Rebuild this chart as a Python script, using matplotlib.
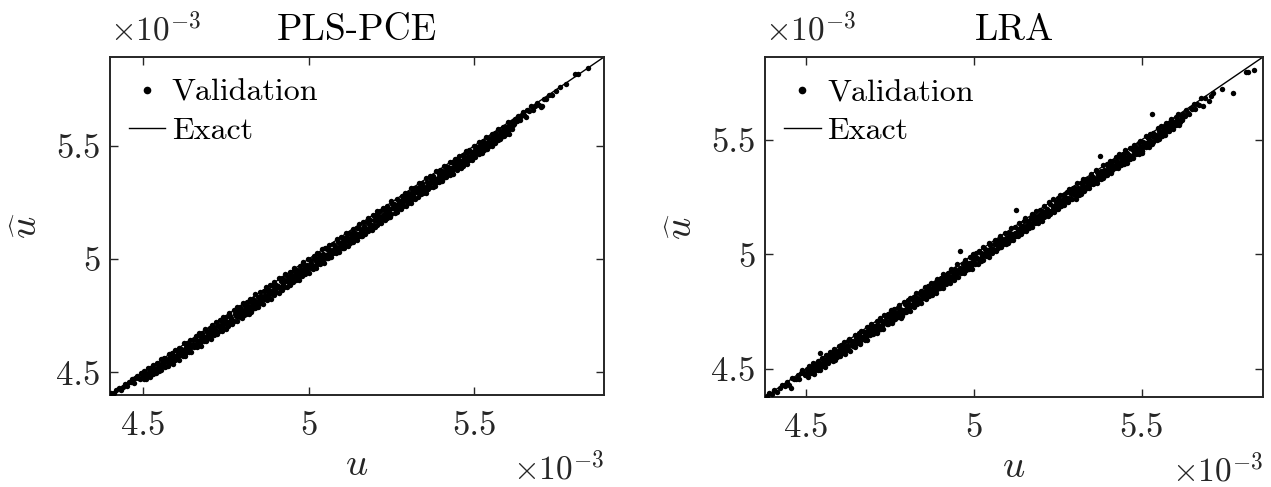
import numpy as np
import matplotlib
matplotlib.use("Agg")
import matplotlib.pyplot as plt
from matplotlib.ticker import FuncFormatter, FixedLocator
from matplotlib.lines import Line2D

plt.rcParams['font.family'] = 'cmr10'
plt.rcParams['mathtext.fontset'] = 'cm'
plt.rcParams['axes.formatter.use_mathtext'] = True

# ---------------------------------------------------------------------------
# Validation samples: exact response u and surrogate error (u_hat - u),
# both stored in units of 1e-6.
# ---------------------------------------------------------------------------
titles = ["PLS-PCE", "LRA"]
tick_values = [4.5e-3, 5.0e-3, 5.5e-3]
pls_lims = [4.400e-3, 5.893e-3]
lra_lims = [4.377e-3, 5.862e-3]

pls_u = [
    4404, 4411, 4419, 4426, 4433, 4439, 4446, 4452, 4457, 4463,
    4468, 4472, 4477, 4481, 4486, 4490, 4494, 4497,
    4503, 4507, 4510, 4515, 4518, 4522, 4524, 4528, 4531, 4535,
    4537, 4541, 4546, 4549, 4554, 4556, 4560, 4564, 4567, 4570,
    4574, 4577, 4581, 4583, 4587, 4592, 4596, 4598, 4603, 4605,
    4608, 4612, 4615, 4620, 4623, 4627, 4629, 4633, 4636, 4640,
    4642, 4646, 4651, 4654, 4659, 4661, 4665, 4669, 4672, 4675,
    4679, 4682, 4686, 4688, 4692, 4697, 4701, 4703, 4708, 4710,
    4713, 4717, 4720, 4725, 4728, 4732, 4734, 4738, 4741, 4745,
    4747, 4751, 4756, 4759, 4764, 4766, 4770, 4774, 4777, 4780,
    4784, 4787, 4791, 4793, 4797, 4802, 4806, 4808, 4813, 4815,
    4818, 4822, 4825, 4830, 4833, 4837, 4839, 4843, 4846, 4850,
    4852, 4856, 4861, 4864, 4869, 4871, 4875, 4879, 4882, 4885,
    4889, 4892, 4896, 4898, 4902, 4907, 4911, 4913, 4918, 4920,
    4923, 4927, 4930, 4935, 4938, 4942, 4944, 4948, 4951, 4955,
    4957, 4961, 4966, 4969, 4974, 4976, 4980, 4984, 4987, 4990,
    4994, 4997, 5001, 5003, 5007, 5012, 5016, 5018, 5023, 5025,
    5028, 5032, 5035, 5040, 5043, 5047, 5049, 5053, 5056, 5060,
    5062, 5066, 5071, 5074, 5079, 5081, 5085, 5089, 5092, 5095,
    5099, 5102, 5106, 5108, 5112, 5117, 5121, 5123, 5128, 5130,
    5133, 5137, 5140, 5145, 5148, 5152, 5154, 5158, 5161, 5165,
    5167, 5171, 5176, 5179, 5184, 5186, 5190, 5194, 5197, 5200,
    5204, 5207, 5211, 5213, 5217, 5222, 5226, 5228, 5233, 5235,
    5238, 5242, 5245, 5250, 5253, 5257, 5259, 5263, 5266, 5270,
    5272, 5276, 5281, 5284, 5289, 5291, 5295, 5299, 5302, 5305,
    5309, 5312, 5316, 5318, 5322, 5327, 5331, 5333, 5338, 5340,
    5343, 5347, 5350, 5355, 5358, 5362, 5364, 5368, 5371, 5375,
    5377, 5381, 5386, 5389, 5394, 5396, 5400, 5404, 5407, 5410,
    5414, 5417, 5421, 5423, 5427, 5432, 5436, 5438, 5443, 5445,
    5448, 5452, 5455, 5460, 5463, 5467, 5469, 5473, 5476, 5480,
    5482, 5486, 5491, 5494, 5499, 5501, 5505, 5509, 5512, 5515,
    5519, 5522, 5526, 5528, 5532, 5537, 5541, 5543, 5548, 5550,
    5553, 5557, 5560, 5565, 5568, 5572, 5574, 5578, 5581, 5585,
    5587, 5591, 5596, 5599, 5604, 5606, 5610, 5614, 5617, 5620,
    5624, 5629, 5633, 5638, 5642, 5647, 5651, 5656, 5661, 5667,
    5672, 5678, 5684, 5690, 5697, 5704, 5712, 5719, 5727, 5736,
    5748, 5761, 5779, 5806, 5813, 5846,
    4598, 4832, 5103, 5201, 5422, 5705,
    4502, 4506, 4510, 4514, 4518, 4522, 4526, 4530, 4535, 4540,
    4543, 4547, 4552, 4555, 4559, 4564, 4567, 4571, 4576, 4580,
    4581, 4585, 4589, 4593, 4597, 4603, 4608, 4612, 4617, 4620,
    4622, 4626, 4630, 4634, 4638, 4642, 4646, 4650, 4655, 4660,
    4663, 4667, 4672, 4675, 4679, 4684, 4687, 4691, 4696, 4700,
    4701, 4705, 4709, 4713, 4717, 4723, 4728, 4732, 4737, 4740,
    4742, 4746, 4750, 4754, 4758, 4762, 4766, 4770, 4775, 4780,
    4783, 4787, 4792, 4795, 4799, 4804, 4807, 4811, 4816, 4820,
    4821, 4825, 4829, 4833, 4837, 4843, 4848, 4852, 4857, 4860,
    4862, 4866, 4870, 4874, 4878, 4882, 4886, 4890, 4895, 4900,
    4903, 4907, 4912, 4915, 4919, 4924, 4927, 4931, 4936, 4940,
    4941, 4945, 4949, 4953, 4957, 4963, 4968, 4972, 4977, 4980,
    4982, 4986, 4990, 4994, 4998, 5002, 5006, 5010, 5015, 5020,
    5023, 5027, 5032, 5035, 5039, 5044, 5047, 5051, 5056, 5060,
    5061, 5065, 5069, 5073, 5077, 5083, 5088, 5092, 5097, 5100,
    5102, 5106, 5110, 5114, 5118, 5122, 5126, 5130, 5135, 5140,
    5143, 5147, 5152, 5155, 5159, 5164, 5167, 5171, 5176, 5180,
    5181, 5185, 5189, 5193, 5197, 5203, 5208, 5212, 5217, 5220,
    5222, 5226, 5230, 5234, 5238, 5242, 5246, 5250, 5255, 5260,
    5263, 5267, 5272, 5275, 5279, 5284, 5287, 5291, 5296, 5300,
    5301, 5305, 5309, 5313, 5317, 5323, 5328, 5332, 5337, 5340,
    5342, 5346, 5350, 5354, 5358, 5362, 5366, 5370, 5375, 5380,
    5383, 5387, 5392, 5395, 5399, 5404, 5407, 5411, 5416, 5420,
    5421, 5425, 5429, 5433, 5437, 5443, 5448, 5452, 5457, 5460,
    5462, 5466, 5470, 5474, 5478, 5482, 5486, 5490, 5495, 5500,
    5503, 5507, 5512, 5515, 5519, 5524, 5527, 5531, 5536, 5540,
    5541, 5545, 5549, 5553, 5557, 5563, 5568, 5572, 5577, 5580,
    5582, 5586, 5590, 5594, 5598, 5602, 5606, 5610, 5615, 5620,
]
pls_err = [
    3, -4, 1, 5, -9, -2, 4, -13, 0, -6,
    2, -17, -3, 5, -10, -21, 1, -7,
    2, -12, -24, 4, -15, -1, -22, -8, 3, -18,
    -26, 1, -11, -20, 5, -14, -27, 0, -17, -9,
    -23, 3, -13, -29, -2, -19, 4, -25, -10, -16,
    1, -28, -12, -21, 5, -47, -15, -3, -30, -18,
    2, -24, -9, -31, 0, -17, -26, 6, -13, -33,
    -4, -20, -29, 3, -14, -35, -7, -22, 1, -27,
    -11, -32, 4, -18, -25, -2, -38, -15, 2, -29,
    -21, -8, -34, 5, -16, -27, -52, 0, -19, -31,
    3, -13, -36, -6, -23, 4, -30, -17, -1, -33,
    -26, 2, -15, -37, -9, -22, 5, -31, -14, -45,
    1, -19, -34, -5, -27, 4, -12, -38, -20, 0,
    -29, -10, 3, -35, -18, -24, 6, -39, -14, -2,
    -31, -21, 4, -11, -36, -26, 1, -17, -41, -7,
    5, -28, -15, -33, -3, -22, -40, 2, -12, -30,
    -19, 4, -35, -8, -26, -44, 0, -16, -32, 3,
    -23, -10, -38, 5, -18, -29, -1, -34, -13, -56,
    2, -25, -40, -7, -19, -31, 4, -14, -37, -22,
    -3, -28, -11, -36, 3, -20, -33, -6, -42, -16,
    1, -30, -24, -9, -38, 5, -17, -27, -58, -2,
    -21, -35, -12, 3, -29, -15, -39, 0, -24, -8,
    -33, 4, -18, -27, -6, -36, 2, -13, -30, -20,
    -1, -38, -23, 5, -11, -32, -17, -48, 1, -26,
    -14, -35, -4, -22, -30, 3, -19, -37, -9, -25,
    4, -16, -33, -2, -27, -12, -36, 2, -21, -31,
    -7, -24, -38, 3, -15, -29, -43, 0, -18, -33,
    -10, -26, 5, -35, -19, -3, -30, -13, -39, 1,
    -22, -8, -34, -17, 4, -28, -11, -37, -1, -24,
    -32, -15, 2, -26, -42, -6, -20, -35, 3, -13,
    -29, -4, -18, -33, 1, -23, -10, -36, -16, 4,
    -27, -12, -2, -31, -19, 3, -25, -9, -34, -15,
    0, -22, -30, -6, -17, 2, -28, -11, -24, -35,
    -3, -20, -13, -29, 1, -18, -26, -7, -23, -14,
    -6, -19, 1, -25, -11, 2, -16, -28, -4, -14,
    3, -21, -8, -2, -17, -31, -6, -12, -3, -9,
    -5, 0, -7, 12, 4, -3,
    -30, -48, -55, -57, -43, -30,
    -33, -20, -38, -26, -30, -41, -18, -36, -28, -44,
    -24, -39, -31, -46, -22, -35, -42, -27, -48, -33,
    -40, -25, -50, -34, -44, -29, -52, -37, -23, -47,
    -31, -53, -41, -27, -49, -36, -55, -30, -45, -39,
    -51, -34, -43, -57, -28, -46, -38, -54, -32, -48,
    -42, -58, -35, -50, -26, -53, -44, -31, -56, -40,
    -29, -49, -60, -37, -52, -43, -33, -57, -47, -24,
    -55, -39, -46, -30, -59, -50, -36, -53, -41, -62,
    -34, -57, -48, -27, -54, -44, -61, -38, -51, -32,
    -58, -42, -35, -56, -47, -29, -60, -45, -52, -37,
    -49, -31, -63, -44, -55, -38, -51, -28, -58, -46,
    -36, -59, -42, -53, -33, -57, -48, -62, -40, -54,
    -45, -30, -56, -50, -39, -61, -43, -34, -58, -52,
    -60, -47, -37, -55, -28, -53, -64, -41, -49, -35,
    -52, -38, -59, -46, -33, -57, -44, -62, -30, -50,
    -41, -56, -48, -35, -60, -43, -54, -29, -58, -47,
    -34, -61, -50, -39, -55, -45, -31, -59, -42, -53,
    -57, -44, -36, -63, -48, -30, -56, -51, -40, -60,
    -46, -32, -58, -42, -54, -37, -61, -49, -29, -55,
    -39, -60, -47, -34, -57, -43, -52, -31, -59, -45,
    -53, -36, -62, -48, -41, -56, -33, -58, -44, -50,
    -30, -55, -43, -60, -38, -51, -46, -28, -57, -41,
    -58, -45, -34, -53, -40, -59, -49, -36, -54, -31,
    -47, -27, -56, -42, -61, -35, -52, -44, -30, -57,
    -38, -54, -45, -29, -58, -41, -50, -33, -55, -46,
    -52, -36, -25, -49, -43, -56, -31, -47, -39, -53,
    -28, -46, -40, -55, -34, -50, -23, -44, -37, -51,
    -42, -30, -48, -26, -45, -36, -52, -32, -40, -21,
]

lra_u = [
    4383, 4390, 4398, 4405, 4413, 4421, 4428, 4436, 4443, 4449,
    4455, 4459, 4464, 4470, 4475, 4479, 4484, 4488, 4493, 4497,
    4502, 4505, 4509, 4512, 4516, 4520, 4523, 4527, 4531, 4535,
    4539, 4543, 4546, 4549, 4553, 4556, 4559, 4564, 4567, 4570,
    4573, 4576, 4580, 4584, 4587, 4589, 4594, 4597, 4600, 4605,
    4607, 4610, 4614, 4617, 4621, 4625, 4628, 4632, 4636, 4640,
    4644, 4648, 4651, 4654, 4658, 4661, 4664, 4669, 4672, 4675,
    4678, 4681, 4685, 4689, 4692, 4694, 4699, 4702, 4705, 4710,
    4712, 4715, 4719, 4722, 4726, 4730, 4733, 4737, 4741, 4745,
    4749, 4753, 4756, 4759, 4763, 4766, 4769, 4774, 4777, 4780,
    4783, 4786, 4790, 4794, 4797, 4799, 4804, 4807, 4810, 4815,
    4817, 4820, 4824, 4827, 4831, 4835, 4838, 4842, 4846, 4850,
    4854, 4858, 4861, 4864, 4868, 4871, 4874, 4879, 4882, 4885,
    4888, 4891, 4895, 4899, 4902, 4904, 4909, 4912, 4915, 4920,
    4922, 4925, 4929, 4932, 4936, 4940, 4943, 4947, 4951, 4955,
    4959, 4963, 4966, 4969, 4973, 4976, 4979, 4984, 4987, 4990,
    4993, 4996, 5000, 5004, 5007, 5009, 5014, 5017, 5020, 5025,
    5027, 5030, 5034, 5037, 5041, 5045, 5048, 5052, 5056, 5060,
    5064, 5068, 5071, 5074, 5078, 5081, 5084, 5089, 5092, 5095,
    5098, 5101, 5105, 5109, 5112, 5114, 5119, 5122, 5125, 5130,
    5132, 5135, 5139, 5142, 5146, 5150, 5153, 5157, 5161, 5165,
    5169, 5173, 5176, 5179, 5183, 5186, 5189, 5194, 5197, 5200,
    5203, 5206, 5210, 5214, 5217, 5219, 5224, 5227, 5230, 5235,
    5237, 5240, 5244, 5247, 5251, 5255, 5258, 5262, 5266, 5270,
    5274, 5278, 5281, 5284, 5288, 5291, 5294, 5299, 5302, 5305,
    5308, 5311, 5315, 5319, 5322, 5324, 5329, 5332, 5335, 5340,
    5342, 5345, 5349, 5352, 5356, 5360, 5363, 5367, 5371, 5375,
    5379, 5383, 5386, 5389, 5393, 5396, 5399, 5404, 5407, 5410,
    5413, 5416, 5420, 5424, 5427, 5429, 5434, 5437, 5440, 5445,
    5447, 5450, 5454, 5457, 5461, 5465, 5468, 5472, 5476, 5480,
    5484, 5488, 5491, 5494, 5498, 5501, 5504, 5509, 5512, 5515,
    5518, 5521, 5525, 5529, 5532, 5534, 5539, 5542, 5545, 5550,
    5552, 5555, 5559, 5562, 5566, 5570, 5573, 5577, 5581, 5585,
    5589, 5593, 5596, 5599, 5603, 5606, 5609, 5614, 5617, 5620,
    5624, 5628, 5633, 5637, 5642, 5646, 5651, 5655, 5660, 5666,
    5671, 5676, 5683, 5690, 5700, 5706, 5714, 5741, 5774, 5811,
    5818, 5835,
    4542, 4957, 5532, 4877, 5320,
    4503, 4506, 4511, 4515, 4518, 4523, 4526, 4531, 4534, 4540,
    4541, 4545, 4548, 4554, 4557, 4561, 4565, 4570, 4573, 4580,
    4582, 4587, 4590, 4593, 4599, 4602, 4607, 4609, 4616, 4620,
    4623, 4626, 4631, 4635, 4638, 4643, 4646, 4651, 4654, 4660,
    4661, 4665, 4668, 4674, 4677, 4681, 4685, 4690, 4693, 4700,
    4702, 4707, 4710, 4713, 4719, 4722, 4727, 4729, 4736, 4740,
    4743, 4746, 4751, 4755, 4758, 4763, 4766, 4771, 4774, 4780,
    4781, 4785, 4788, 4794, 4797, 4801, 4805, 4810, 4813, 4820,
    4822, 4827, 4830, 4833, 4839, 4842, 4847, 4849, 4856, 4860,
    4863, 4866, 4871, 4875, 4878, 4883, 4886, 4891, 4894, 4900,
    4901, 4905, 4908, 4914, 4917, 4921, 4925, 4930, 4933, 4940,
    4942, 4947, 4950, 4953, 4959, 4962, 4967, 4969, 4976, 4980,
    4983, 4986, 4991, 4995, 4998, 5003, 5006, 5011, 5014, 5020,
    5021, 5025, 5028, 5034, 5037, 5041, 5045, 5050, 5053, 5060,
    5062, 5067, 5070, 5073, 5079, 5082, 5087, 5089, 5096, 5100,
    5103, 5106, 5111, 5115, 5118, 5123, 5126, 5131, 5134, 5140,
    5141, 5145, 5148, 5154, 5157, 5161, 5165, 5170, 5173, 5180,
    5182, 5187, 5190, 5193, 5199, 5202, 5207, 5209, 5216, 5220,
    5223, 5226, 5231, 5235, 5238, 5243, 5246, 5251, 5254, 5260,
    5261, 5265, 5268, 5274, 5277, 5281, 5285, 5290, 5293, 5300,
    5302, 5307, 5310, 5313, 5319, 5322, 5327, 5329, 5336, 5340,
    5343, 5346, 5351, 5355, 5358, 5363, 5366, 5371, 5374, 5380,
    5381, 5385, 5388, 5394, 5397, 5401, 5405, 5410, 5413, 5420,
    5422, 5427, 5430, 5433, 5439, 5442, 5447, 5449, 5456, 5460,
    5463, 5466, 5471, 5475, 5478, 5483, 5486, 5491, 5494, 5500,
    5501, 5505, 5508, 5514, 5517, 5521, 5525, 5530, 5533, 5540,
    5542, 5547, 5550, 5553, 5559, 5562, 5567, 5569, 5576, 5580,
    5583, 5586, 5591, 5595, 5598, 5603, 5606, 5611, 5614, 5620,
]
lra_err = [
    -2, 4, -9, 1, -14, -5, 3, -11, -1, -19,
    -38, 2, -8, -15, 0, -22, -4, 5, -12, -26,
    -3, -17, 2, -27, -10, 4, -21, -6, -30, 1,
    -14, -25, 3, -9, -33, -18, 0, -23, -12, 5,
    -28, -7, -19, 2, -31, -13, -24, 4, -16, -2,
    -26, -11, 3, -34, -20, -5, 1, -29, -15, -22,
    5, -12, -30, -24, -1, -18, 3, -36, -9, -27,
    -15, 2, -32, -21, -6, 4, -26, -13, -39, 0,
    -20, -8, 3, -33, -17, -28, 1, -11, -35, -4,
    -24, 5, -14, -37, -1, -22, -30, -9, 2, -18,
    -60, -27, 4, -12, -34, -19, -3, -25, 1, -38,
    -16, -7, -31, 3, -21, -36, -10, 0, -26, -14,
    5, -33, -18, -4, -29, 2, -40, -13, -23, -8,
    -35, 1, -17, -27, -5, -37, 4, -20, -11, -30,
    -2, -24, -38, 3, -14, -31, -8, -21, 5, -34,
    -18, -42, -6, -27, 2, -13, -36, -22, 0, -29,
    -10, 4, -33, -19, -3, -26, 1, -38, -15, -23,
    3, -30, -12, -37, -20, 5, -8, -27, -34, -16,
    -1, -22, -35, -11, 4, -29, -17, -39, 2, -25,
    -48, -7, -32, -14, 1, -23, -37, -4, 68, -19,
    -28, 3, -13, -35, -21, -6, 4, -30, -16, -41,
    -9, 2, -26, -33, -15, 5, -38, -20, -3, -28,
    -12, -36, 0, -24, -17, -31, 3, -8, -39, -22,
    4, -27, -14, -34, -5, -19, 1, -32, -25, -10,
    -29, -6, -37, 3, -16, -23, -2, -35, -13, -65,
    2, -20, -31, -9, -26, 5, -15, -38, -4, -22,
    -33, -11, 1, -28, -18, -36, 4, -7, -24, 54,
    -14, -30, 3, -21, -37, -3, -17, -27, 2, -12,
    -25, -8, -34, 0, -19, -29, 5, -13, -36, -5,
    -21, 4, -31, -16, -26, -1, -37, -10, 3, -24,
    -17, -33, -6, 2, -28, -59, -12, -22, 4, -30,
    -9, -25, 1, -35, -15, -3, -27, -19, -32, 0,
    -14, -29, 3, -22, -8, -33, -1, -18, -26, -11,
    2, -24, -16, -31, -5, -20, 4, -28, -12, -35,
    -10, -24, -3, -18, -31, -6, -15, 1, -27, -11,
    -20, 8, -34, -5, -30, -14, -9, -19, -71, -14,
    -20, -30,
    25, 58, 80, -37, -55,
    -28, -41, -19, -35, -24, -44, -31, -16, -38, -26,
    -45, -22, -37, -30, -48, -18, -40, -33, -25, -46,
    -34, -50, -27, -42, -20, -47, -36, -29, -52, -39,
    -23, -44, -53, -31, -40, -26, -49, -37, -21, -46,
    -51, -33, -28, -47, -39, -55, -24, -43, -35, -49,
    -38, -25, -52, -44, -30, -48, -41, -56, -27, -45,
    -47, -36, -22, -53, -43, -32, -50, -26, -46, -40,
    -29, -54, -42, -35, -49, -24, -45, -57, -37, -31,
    -52, -40, -48, -28, -44, -55, -33, -41, -50, -26,
    -36, -47, -23, -51, -39, -30, -54, -43, -34, -49,
    -44, -29, -56, -38, -48, -25, -42, -53, -31, -46,
    -55, -40, -33, -50, -27, -45, -37, -52, -43, -28,
    -30, -49, -42, -57, -35, -46, -24, -51, -39, -44,
    -48, -34, -53, -26, -45, -38, -55, -31, -47, -40,
    -41, -54, -29, -46, -36, -52, -43, -27, -50, -35,
    -53, -32, -47, -40, -56, -30, -44, -49, -25, -51,
    -37, -45, -28, -54, -42, -33, -50, -39, -55, -29,
    -46, -26, -51, -35, -43, -58, -31, -48, -40, -52,
    -32, -50, -44, -27, -53, -38, -47, -55, -34, -42,
    -49, -36, -54, -41, -30, -51, -45, -28, -52, -39,
    -27, -47, -38, -55, -33, -44, -52, -36, -48, -31,
    -51, -40, -29, -49, -45, -35, -56, -42, -30, -50,
    -38, -53, -46, -32, -50, -41, -27, -54, -44, -36,
    -45, -30, -52, -39, -48, -25, -51, -37, -55, -43,
    -34, -49, -41, -56, -31, -46, -38, -52, -28, -47,
    -50, -37, -27, -45, -40, -54, -33, -48, -42, -30,
    -29, -46, -39, -51, -25, -44, -35, -49, -32, -41,
    -43, -26, -37, -48, -31, -40, -22, -45, -34, -28,
]

INK = '#262626'

fig = plt.figure(figsize=(12.71, 4.87), dpi=100)
ax_left = fig.add_axes([110 / 1271, 1 - 395 / 487, 494 / 1271, 338 / 487])
ax_right = fig.add_axes([765 / 1271, 1 - 397 / 487, 498 / 1271, 340 / 487])


def draw_panel(ax, u_micro, err_micro, lims, title):
    n = min(len(u_micro), len(err_micro))
    u = np.asarray(u_micro[:n], dtype=float) * 1e-6
    u_hat = u + np.asarray(err_micro[:n], dtype=float) * 1e-6

    ax.plot(lims, lims, color='k', lw=1.0, zorder=2)
    ax.plot(u, u_hat, linestyle='none', marker='o', ms=3.9, mew=0,
            color='k', zorder=3)

    ax.set_xlim(lims)
    ax.set_ylim(lims)
    for axis in (ax.xaxis, ax.yaxis):
        axis.set_major_locator(FixedLocator(tick_values))
        axis.set_major_formatter(FuncFormatter(lambda v, _: f"{v * 1e3:g}"))

    ax.tick_params(direction='in', length=6, width=1.0, top=True, right=True,
                   labelsize=25, colors=INK)
    ax.tick_params(axis='x', pad=11)
    ax.tick_params(axis='y', pad=7)
    for sp in ax.spines.values():
        sp.set_color(INK)
        sp.set_linewidth(1.4)

    ax.set_title(title, fontsize=27, pad=12, color='k')
    ax.set_xlabel(r'$u$', fontsize=28, labelpad=4, color=INK)
    ax.set_ylabel(r'$\widehat{u}$', fontsize=28, labelpad=8, color=INK)

    ax.text(0.0, 1.03, r'$\times10^{-3}$', transform=ax.transAxes,
            ha='left', va='bottom', fontsize=24, color=INK)
    ax.text(1.0, -0.165, r'$\times10^{-3}$', transform=ax.transAxes,
            ha='right', va='top', fontsize=24, color=INK)

    h_val = Line2D([], [], linestyle='none', marker='o', ms=5.5, mew=0, color='k')
    h_ex = Line2D([], [], color='k', lw=1.0)
    ax.legend([h_val, h_ex], ['Validation', 'Exact'], loc='upper left',
              bbox_to_anchor=(0.025, 0.955), frameon=False, fontsize=23,
              handlelength=1.15, handletextpad=0.2, labelspacing=0.3,
              borderaxespad=0, borderpad=0.2)


draw_panel(ax_left, pls_u, pls_err, pls_lims, titles[0])
draw_panel(ax_right, lra_u, lra_err, lra_lims, titles[1])

fig.savefig('out.png', dpi=100)
